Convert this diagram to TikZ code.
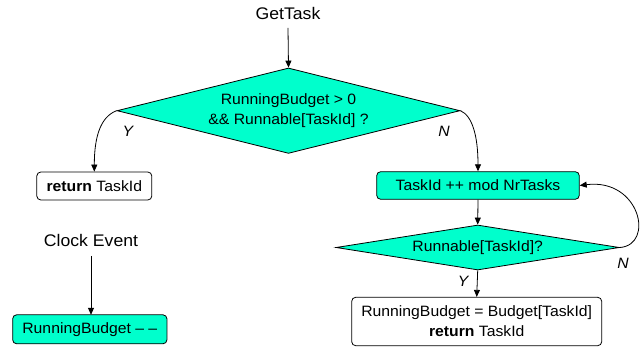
\documentclass[tikz,border=0pt]{standalone}
\usepackage{fontspec}
\setmainfont{Liberation Sans}[FakeStretch=1.05]
\usetikzlibrary{shapes.geometric,arrows.meta}
\definecolor{teal1}{RGB}{0,255,204}
\tikzset{
  body/.style={font=\fontsize{15}{20}\selectfont},
  title/.style={font=\fontsize{16.8}{20}\selectfont, inner sep=0pt},
  dec/.style={shape=diamond, draw, fill=teal1, inner sep=0pt, align=center, body, line width=0.8pt},
  tbox/.style={shape=rectangle, draw, fill=teal1, rounded corners=4pt, inner sep=0pt, align=center, body, line width=0.8pt},
  wbox/.style={tbox, fill=white},
  lab/.style={font=\fontsize{15}{20}\selectfont\itshape, inner sep=0pt},
  arr/.style={draw, line width=0.8pt, -{Triangle[length=7pt,width=6pt]}},
}
\begin{document}
\begin{tikzpicture}[x=1pt,y=-1pt]
\useasboundingbox (0,0) rectangle (642,347);
% nodes
\node[title, anchor=base] (gettask) at (288,20) {GetTask};
\node[dec, shape aspect=4, minimum width=343pt, minimum height=85.4pt] (d1) at (288.5,110.7) {RunningBudget > 0\\\&\& Runnable[TaskId] ?};
\node[wbox, minimum width=115pt, minimum height=28pt] (ret) at (94.3,186) {\textbf{return} TaskId};
\node[tbox, minimum width=202.6pt, minimum height=27.6pt] (inc) at (478,185.5) {TaskId ++ mod NrTasks};
\node[dec, shape aspect=6.3, minimum width=283.3pt, minimum height=45pt] (d2) at (477.7,247.5) {Runnable[TaskId]?};
\node[wbox, minimum width=250pt, minimum height=48.4pt] (set) at (476.7,321.5) {RunningBudget = Budget[TaskId]\\\textbf{return} TaskId};
\node[title, anchor=base] (clock) at (91,247) {Clock Event};
\node[tbox, minimum width=154.3pt, minimum height=29pt] (dec) at (89.8,329.3) {RunningBudget – –};
% labels
\node[lab] (y1) at (128,131) {Y};
\node[lab] (n1) at (444,131) {N};
\node[lab] (n2) at (623,263) {N};
\node[lab] (y2) at (463,281) {Y};
% connectors
\draw[arr] (288,28) -- (d1.north);
\draw[arr] (d1.west) .. controls +(-16,6) and +(0,-35) .. (ret.north);
\draw[arr] (d1.east) .. controls +(12,5) and +(0,-35) .. (inc.north);
\draw[arr] (inc.south) -- (d2.north);
\draw[arr] (d2.east) .. controls (655,245) and (640,178) .. (inc.east);
\draw[arr] (d2.south) -- (set.north);
\draw[arr] (91,256) -- (91,314.8);
\end{tikzpicture}
\end{document}
